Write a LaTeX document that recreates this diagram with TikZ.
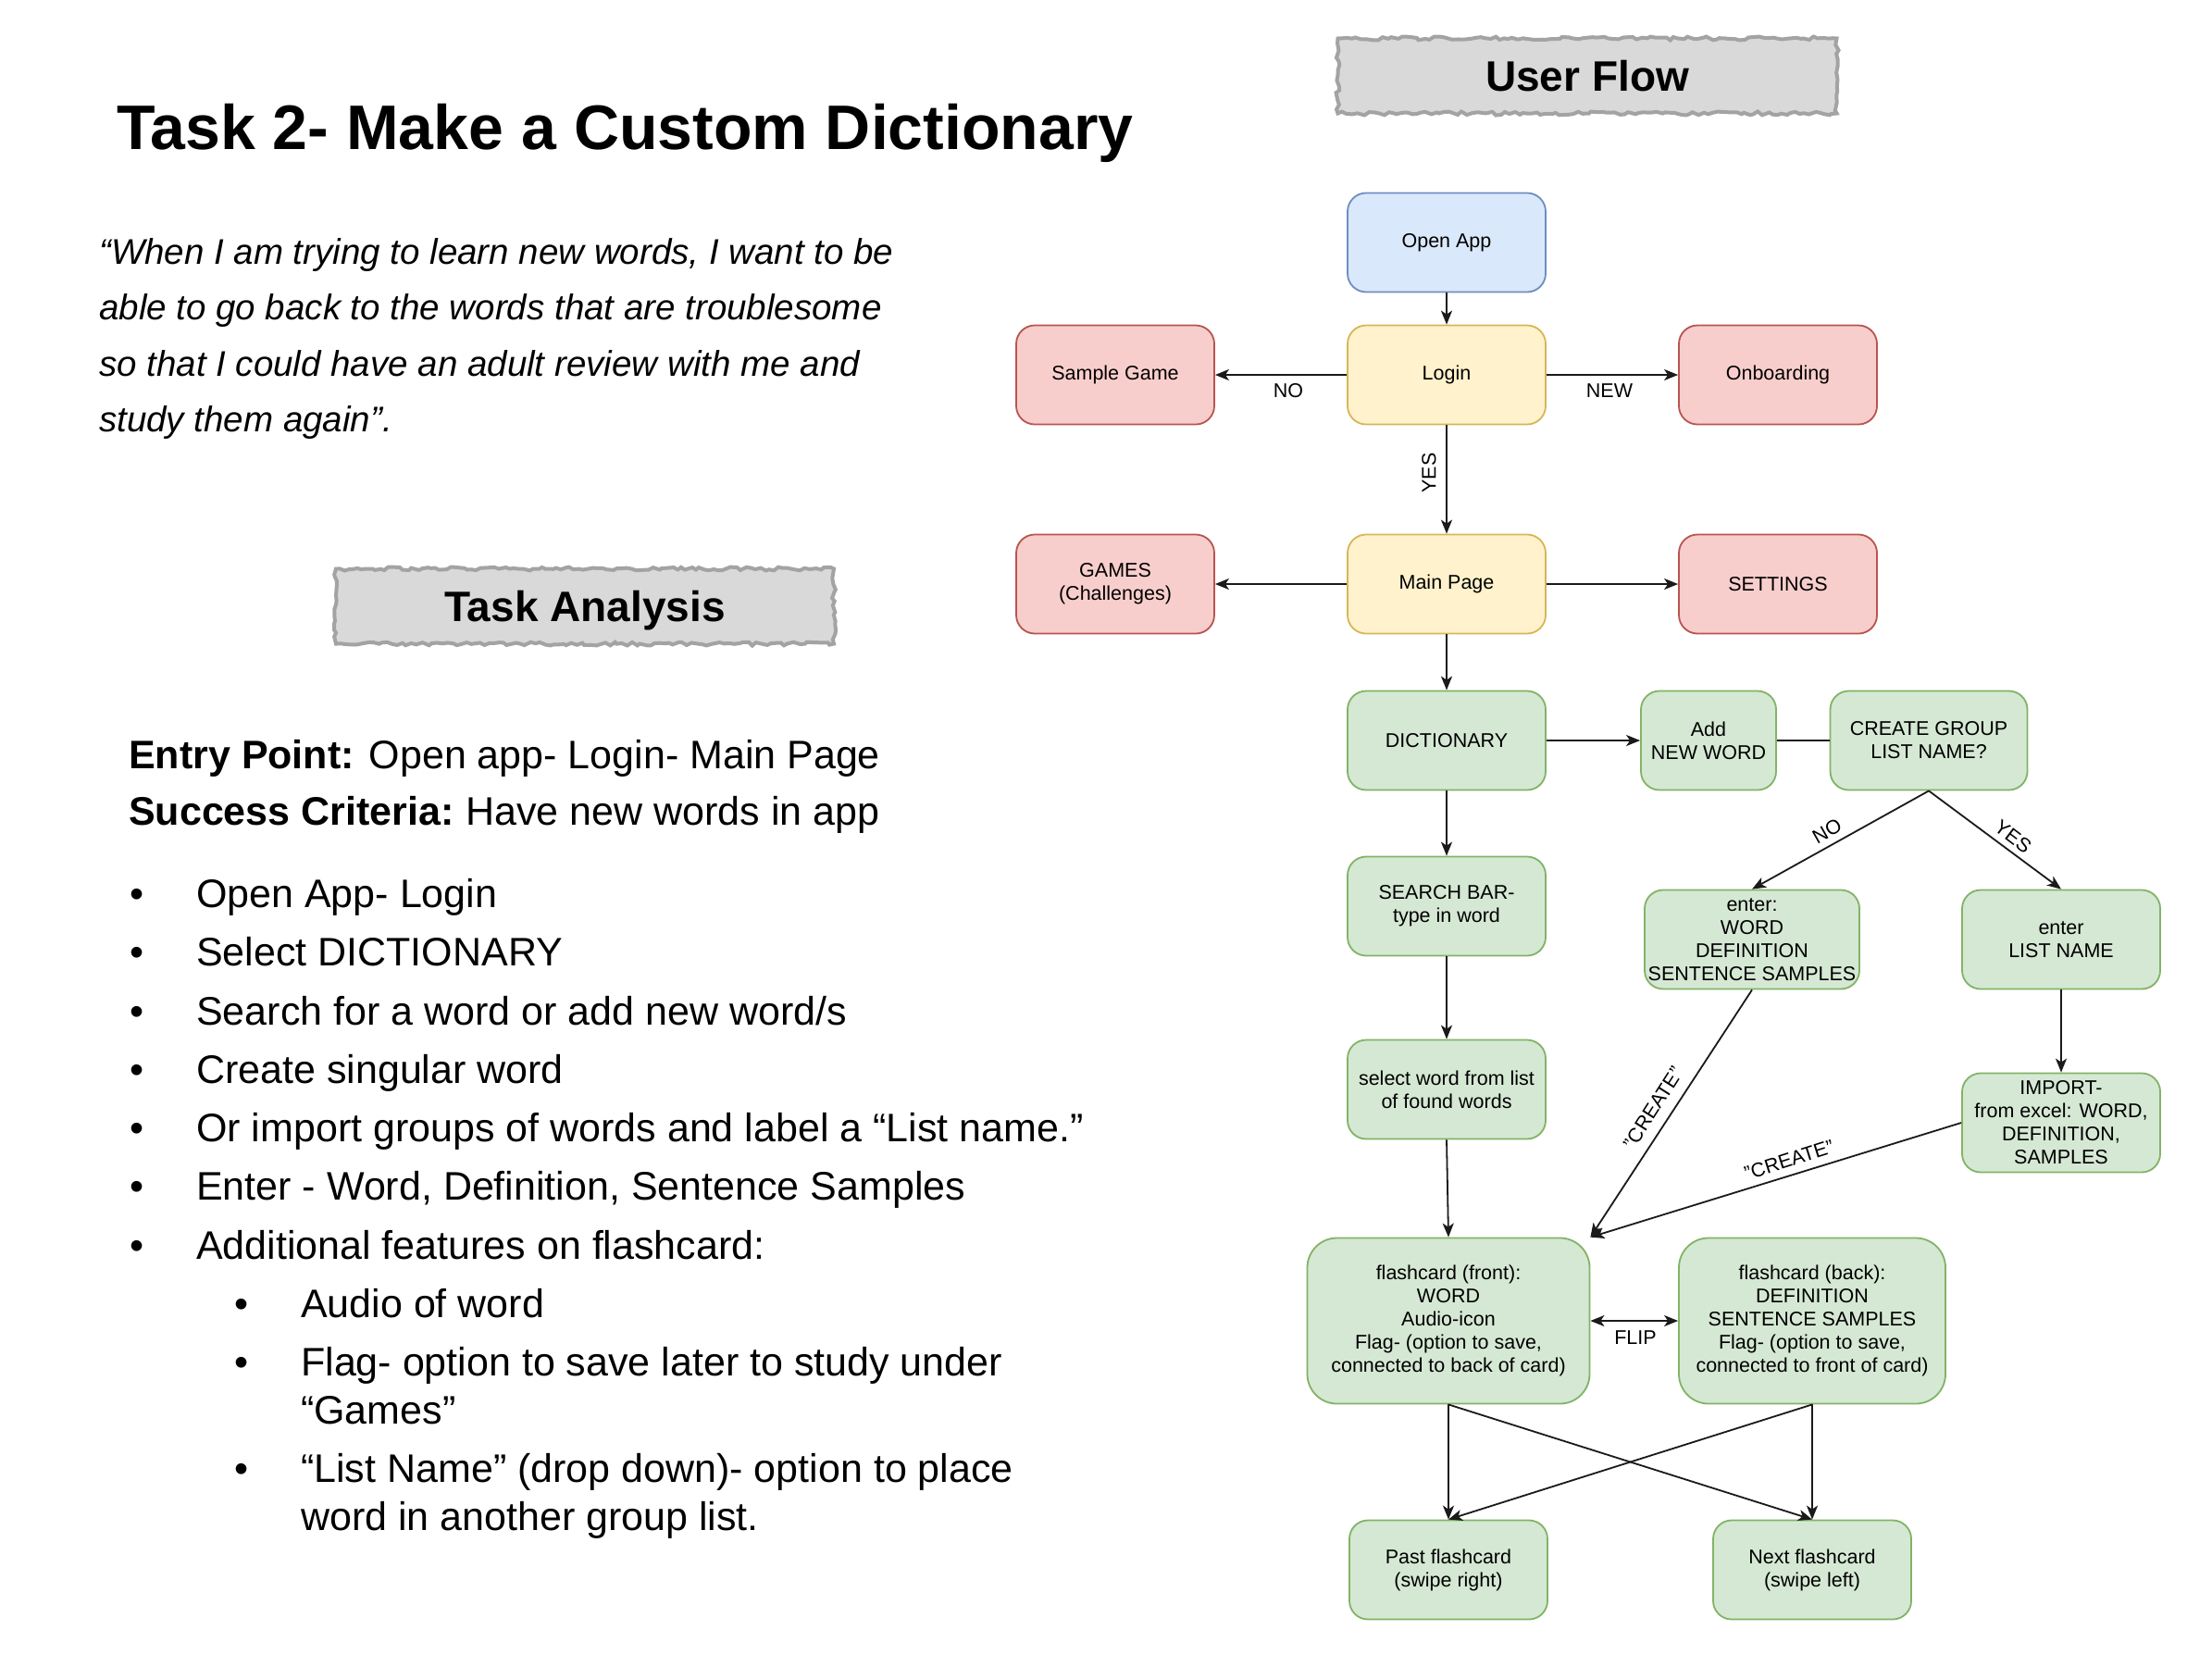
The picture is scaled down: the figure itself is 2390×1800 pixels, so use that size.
\documentclass[tikz,border=0pt]{standalone}
\usepackage{fontspec}
\setmainfont{Liberation Sans}
\usetikzlibrary{arrows.meta,decorations.pathmorphing}
\definecolor{bluef}{HTML}{DAE8FC}\definecolor{blued}{HTML}{6C8EBF}
\definecolor{yelf}{HTML}{FFF2CC}\definecolor{yeld}{HTML}{D6B656}
\definecolor{redf}{HTML}{F8CECC}\definecolor{redd}{HTML}{B85450}
\definecolor{grnf}{HTML}{D5E8D4}\definecolor{grnd}{HTML}{82B366}
\definecolor{hdrf}{HTML}{D9D9D9}\definecolor{hdrd}{HTML}{A3A3A3}
\definecolor{edge}{HTML}{1A1A1A}
\tikzset{
  box/.style={draw, rounded corners=20pt, line width=1.8pt, minimum width=214pt, minimum height=107pt,
    align=center, inner sep=1pt, font=\fontsize{21.5}{25}\selectfont},
  bluebox/.style={box, fill=bluef, draw=blued},
  yelbox/.style={box, fill=yelf, draw=yeld},
  redbox/.style={box, fill=redf, draw=redd},
  grnbox/.style={box, fill=grnf, draw=grnd},
  cardbox/.style={grnbox, rounded corners=32pt, minimum height=179pt},
  arr/.style={draw=edge, line width=1.8pt, -{Stealth[length=15pt,width=12pt,inset=4pt]}},
  darr/.style={draw=edge, line width=1.8pt, {Stealth[length=15pt,width=12pt,inset=4pt]}-{Stealth[length=15pt,width=12pt,inset=4pt]}},
  plain/.style={draw=edge, line width=1.8pt},
  lbl/.style={inner sep=1pt, font=\fontsize{21.5}{25}\selectfont},
  hdr/.style={decorate, decoration={random steps, segment length=5pt, amplitude=2pt},
    fill=hdrf, draw=hdrd, line width=4pt, inner sep=0pt, text height=33pt, text depth=0pt,
    font=\fontsize{46}{52}\selectfont\bfseries},
  body/.style={anchor=base west, inner sep=0pt, font=\fontsize{43}{50}\selectfont},
  quote/.style={anchor=base west, inner sep=0pt, font=\fontsize{38.5}{45}\selectfont\itshape},
  bul/.style={anchor=base, inner sep=0pt, font=\fontsize{43}{50}\selectfont},
}
\begin{document}
\begin{tikzpicture}[x=1pt,y=-1pt]
\pgfmathsetseed{11}
\useasboundingbox (0,0) rectangle (2390,1800);
\fill[white] (0,0) rectangle (2390,1800);

% ---------- left column ----------
\node[anchor=base west, inner sep=0pt, font=\fontsize{68}{78}\selectfont\bfseries] (title) at (126,161) {Task 2- Make a Custom Dictionary};

\node[quote] (q1) at (107,285) {“When I am trying to learn new words, I want to be};
\node[quote] (q2) at (107,345.5) {able to go back to the words that are troublesome};
\node[quote] (q3) at (107,406) {so that I could have an adult review with me and};
\node[quote] (q4) at (107,466.5) {study them again”.};

\node[hdr, minimum width=538pt, minimum height=81pt] (ta) at (632,655) {Task Analysis};

\node[body] (entry) at (139,830) {\textbf{Entry Point:} Open app- Login- Main Page};
\node[body] (succ) at (139,891) {\textbf{Success Criteria:}\hspace{-3pt} Have new words in app};

\node[bul] (b1) at (148,980) {•};
\node[body] (t1) at (212,980) {Open App- Login};
\node[bul] (b2) at (148,1043) {•};
\node[body] (t2) at (212,1043) {Select DICTIONARY};
\node[bul] (b3) at (148,1107) {•};
\node[body] (t3) at (212,1107) {Search for a word or add new word/s};
\node[bul] (b4) at (148,1170) {•};
\node[body] (t4) at (212,1170) {Create singular word};
\node[bul] (b5) at (148,1233) {•};
\node[body] (t5) at (212,1233) {Or import groups of words and label a “List name.”};
\node[bul] (b6) at (148,1296) {•};
\node[body] (t6) at (212,1296) {Enter - Word, Definition, Sentence Samples};
\node[bul] (b7) at (148,1360) {•};
\node[body] (t7) at (212,1360) {Additional features on flashcard:};
\node[bul] (s1) at (261,1423) {•};
\node[body] (u1) at (325,1423) {Audio of word};
\node[bul] (s2) at (261,1486) {•};
\node[body] (u2) at (325,1486) {Flag- option to save later to study under};
\node[body] (u2b) at (325,1538) {“Games”};
\node[bul] (s3) at (261,1601) {•};
\node[body] (u3) at (325,1601) {“List Name” (drop down)- option to place};
\node[body] (u3b) at (325,1653) {word in another group list.};

% ---------- user flow ----------
\node[hdr, minimum width=539pt, minimum height=81pt] (uf) at (1715,82) {User Flow};

\node[bluebox] (open) at (1563,262) {Open App};
\node[yelbox] (login) at (1563,405) {Login};
\node[redbox] (sample) at (1205,405) {Sample Game};
\node[redbox] (onboard) at (1921,405) {Onboarding};
\node[redbox] (games) at (1205,631) {GAMES\\(Challenges)};
\node[yelbox] (main) at (1563,631) {Main Page};
\node[redbox] (settings) at (1921,631) {SETTINGS};
\node[grnbox] (dict) at (1563,800) {DICTIONARY};
\node[grnbox, minimum width=146pt] (add) at (1846,800) {Add\\NEW WORD};
\node[grnbox, minimum width=213pt] (create) at (2084,800) {CREATE GROUP\\LIST NAME?};
\node[grnbox] (search) at (1563,979) {SEARCH BAR-\\type in word};
\node[grnbox, minimum width=232pt] (enterw) at (1893,1015) {enter:\\WORD\\DEFINITION\\SENTENCE SAMPLES};
\node[grnbox] (enterl) at (2227,1015) {enter\\LIST NAME};
\node[grnbox] (select) at (1563,1177) {select word from list\\of found words};
\node[grnbox] (import) at (2227,1213) {IMPORT-\\from excel: WORD,\\DEFINITION,\\SAMPLES};
\node[cardbox, minimum width=305pt] (front) at (1565,1427) {flashcard (front):\\WORD\\Audio-icon\\Flag- (option to save,\\connected to back of card)};
\node[cardbox, minimum width=288pt] (back) at (1958,1427) {flashcard (back):\\DEFINITION\\SENTENCE SAMPLES\\Flag- (option to save,\\connected to front of card)};
\node[grnbox] (past) at (1565,1696) {Past flashcard\\(swipe right)};
\node[grnbox] (next) at (1958,1696) {Next flashcard\\(swipe left)};

% connectors
\draw[arr] (open) -- (login);
\draw[arr] (login) -- (sample);
\draw[arr] (login) -- (onboard);
\draw[arr] (login) -- (main);
\draw[arr] (main) -- (games);
\draw[arr] (main) -- (settings);
\draw[arr] (main) -- (dict);
\draw[arr] (dict) -- (add);
\draw[plain] (add) -- (create);
\draw[arr] (dict) -- (search);
\draw[arr] (search) -- (select);
\draw[arr] (create.south) -- (enterw.north);
\draw[arr] (create.south) -- (enterl.north);
\draw[arr] (enterl) -- (import);
\draw[arr] (enterw.south) -- (front.north east);
\draw[arr] (import.west) -- (front.north east);
\draw[arr] (select.south) -- (front.north);
\draw[darr] (front) -- (back);
\draw[arr] (front.south) -- (past.north);
\draw[arr] (front.south) -- (next.north);
\draw[arr] (back.south) -- (next.north);
\draw[arr] (back.south) -- (past.north);

% labels
\node[lbl] (lno) at (1392,422) {NO};
\node[lbl] (lnew) at (1739,422) {NEW};
\node[lbl, rotate=90] (lyes) at (1544,511) {YES};
\node[lbl, rotate=29.5] (lno2) at (1974,898) {NO};
\node[lbl, rotate=-37] (lyes2) at (2175,904) {YES};
\node[lbl, rotate=57.4] (lcr1) at (1786,1197) {"CREATE"};
\node[lbl, rotate=17.6] (lcr2) at (1933,1253) {"CREATE"};
\node[lbl] (lflip) at (1767,1445) {FLIP};
\end{tikzpicture}
\end{document}
